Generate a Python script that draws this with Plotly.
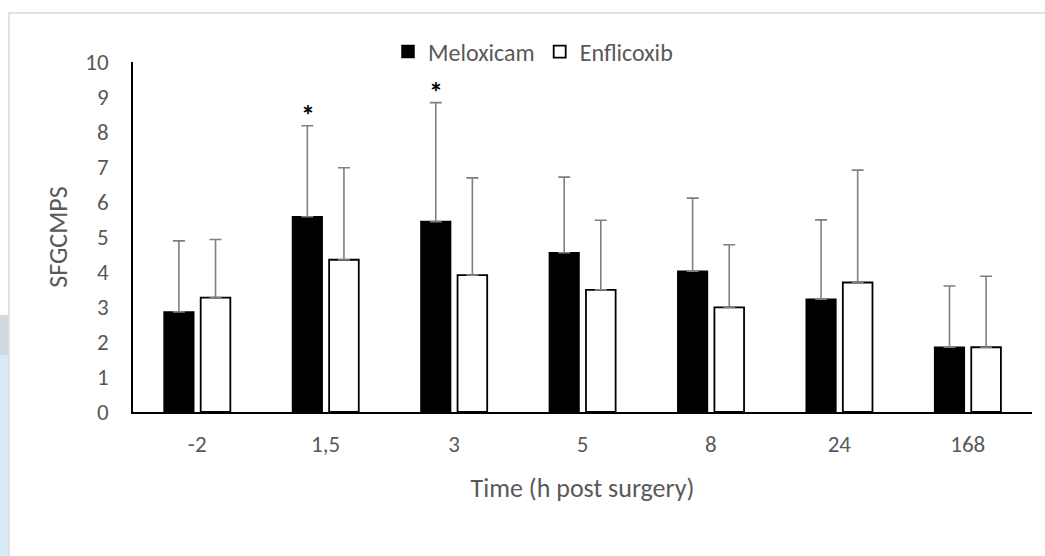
import plotly.graph_objects as go

categories = ["-2", "1,5", "3", "5", "8", "24", "168"]
meloxicam = [2.86, 5.58, 5.44, 4.55, 4.02, 3.22, 1.85]
meloxicam_sd = [2.03, 2.60, 3.40, 2.16, 2.09, 2.27, 1.75]
enflicoxib = [3.27, 4.35, 3.91, 3.49, 2.99, 3.70, 1.85]
enflicoxib_sd = [1.66, 2.63, 2.78, 1.99, 1.79, 3.21, 2.03]
significant = [False, True, True, False, False, False, False]

FONT = "Carlito, 'Liberation Sans Narrow', 'Open Sans', sans-serif"
GREY_TXT = "#595959"

W, H = 1045, 556
L, R, T, B = 133, 13, 62, 144
pw = W - L - R
ph = H - T - B

def px_to_paper_x(px):
    return (px - L) / pw

def px_to_paper_y(py):
    return (H - B - py) / ph

fig = go.Figure()

fig.add_trace(go.Bar(
    name="Meloxicam", x=categories, y=meloxicam,
    marker=dict(color="black", line=dict(color="black", width=1.5)),
    error_y=dict(type="data", symmetric=False, array=meloxicam_sd,
                 arrayminus=[0] * len(meloxicam_sd),
                 color="#7f7f7f", thickness=1.6, width=6),
))
fig.add_trace(go.Bar(
    name="Enflicoxib", x=categories, y=enflicoxib,
    marker=dict(color="white", line=dict(color="black", width=1.8)),
    error_y=dict(type="data", symmetric=False, array=enflicoxib_sd,
                 arrayminus=[0] * len(enflicoxib_sd),
                 color="#7f7f7f", thickness=1.6, width=6),
))

annotations = []
for i, (v, s, sig) in enumerate(zip(meloxicam, meloxicam_sd, significant)):
    if sig:
        annotations.append(dict(
            x=i, y=v + s, xref="x", yref="y", text="<b>*</b>",
            showarrow=False, xshift=-18, yshift=10,
            font=dict(family=FONT, size=28, color="black"),
        ))

shapes = [
    dict(type="rect", xref="paper", yref="paper",
         x0=px_to_paper_x(0), x1=px_to_paper_x(8),
         y0=px_to_paper_y(560), y1=px_to_paper_y(315),
         fillcolor="#d6ebf7", line=dict(width=0), layer="below"),
    dict(type="rect", xref="paper", yref="paper",
         x0=px_to_paper_x(0), x1=px_to_paper_x(8),
         y0=px_to_paper_y(355), y1=px_to_paper_y(315),
         fillcolor="#d3d8dc", line=dict(width=0), layer="below"),
    dict(type="rect", xref="paper", yref="paper",
         x0=px_to_paper_x(9), x1=px_to_paper_x(1060),
         y0=px_to_paper_y(570), y1=px_to_paper_y(13),
         fillcolor="rgba(0,0,0,0)", line=dict(color="#d9d9d9", width=1.5),
         layer="below"),
]

fig.update_layout(
    width=W, height=H, autosize=False,
    margin=dict(l=L, r=R, t=T, b=B, autoexpand=False),
    paper_bgcolor="white", plot_bgcolor="white",
    barmode="group", bargap=0.43, bargroupgap=0.19,
    font=dict(family=FONT, color=GREY_TXT, size=23),
    showlegend=True,
    legend=dict(orientation="h", xref="container", yref="container",
                x=533 / W, xanchor="center", y=1 - 52 / H, yanchor="middle",
                font=dict(family=FONT, size=24, color=GREY_TXT),
                itemwidth=30, bgcolor="rgba(0,0,0,0)"),
    xaxis=dict(
        showline=True, linecolor="black", linewidth=1.5,
        ticks="", showgrid=False, zeroline=False,
        ticklabelstandoff=11,
        tickfont=dict(family=FONT, size=23, color=GREY_TXT),
        title=dict(text="Time (h post surgery)",
                   font=dict(family=FONT, size=26, color=GREY_TXT),
                   standoff=21),
    ),
    yaxis=dict(
        range=[0, 10], dtick=1, showline=True, linecolor="black", linewidth=1.5,
        ticks="", showgrid=False, zeroline=False,
        ticklabelstandoff=18,
        tickfont=dict(family=FONT, size=23, color=GREY_TXT),
        title=dict(text="SFGCMPS",
                   font=dict(family=FONT, size=26, color=GREY_TXT),
                   standoff=10),
    ),
    annotations=annotations,
    shapes=shapes,
)

post = (
    "document.body.style.margin='0';"
    "document.body.style.padding='0';"
    "document.body.style.overflow='hidden';"
)

fig.write_html("out.html", config={"responsive": False, "displayModeBar": False},
               post_script=post)
